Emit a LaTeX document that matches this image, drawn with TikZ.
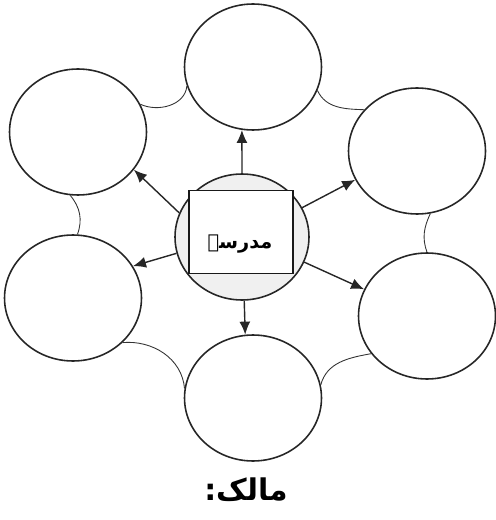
\documentclass[tikz,border=0pt]{standalone}
\usepackage{fontspec}
\newfontfamily\arabicfont[Script=Arabic]{DejaVu Sans}
\TeXXeTstate=1
\usetikzlibrary{shapes.geometric, arrows.meta}

\begin{document}
\begin{tikzpicture}
  [x=0.02cm, y=-0.02cm,
   bubble/.style = {ellipse, draw=black!85, line width=0.9pt, fill=white, inner sep=0pt,
                    minimum width=2.74cm, minimum height=2.52cm},
   spoke/.style = {draw=black!85, line width=0.8pt, -{Latex[length=2.6mm, width=2.2mm]}},
   link/.style = {draw=black!80, line width=0.5pt}]
  \useasboundingbox (0,0) rectangle (495,520);
  \node (hub) [bubble, fill=gray!12, minimum width=2.68cm] at (242,237) {};
  \node (top) [bubble] at (253,67) {};
  \node (upleft) [bubble] at (78,132) {};
  \node (upright) [bubble] at (417,151) {};
  \node (lowleft) [bubble] at (73,298) {};
  \node (lowright) [bubble] at (427,316) {};
  \node (bottom) [bubble] at (253,398) {};
  \node (box) [draw=black!90, line width=0.8pt, fill=white, minimum width=2.08cm, minimum height=1.66cm] at (241,232) {};
  \node (word) at (240,244) {\arabicfont\bfseries\fontsize{11}{13}\selectfont\beginR مدرسہ\endR};
  \node (owner) at (246,490) {\arabicfont\bfseries\fontsize{17}{20}\selectfont\beginR مالک:\endR};
  \path
    (hub.90) edge[spoke] (top.260)
    (hub.159) edge[spoke] (upleft.326)
    (hub.26) edge[spoke] (upright.205)
    (hub.194) edge[spoke] (lowleft.28)
    (hub.338) edge[spoke] (lowright.157)
    (hub.272) edge[spoke] (bottom.97);
  \draw[link]
    (upleft.24) to[out=-25, in=-95] (top.196)
    (top.-20) to[out=-65, in=178] (upright.142)
    (upleft.263) to[out=-50, in=70] (lowleft.86)
    (upright.-78) to[out=-115, in=110] (lowright.90)
    (lowleft.-42) to[out=5, in=95] (bottom.172)
    (bottom.11) to[out=75, in=190] (lowright.214);
\end{tikzpicture}
\end{document}
